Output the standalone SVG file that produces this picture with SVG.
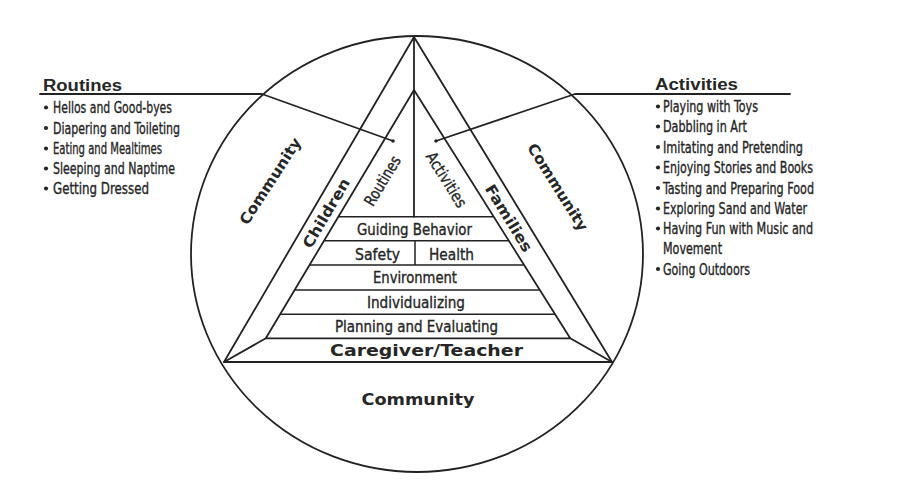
<svg xmlns="http://www.w3.org/2000/svg" width="900" height="499" viewBox="0 0 900 499">
<style>
.ln{fill:none;stroke:#222;stroke-width:1.8;stroke-linecap:round;stroke-linejoin:round}
.thin{fill:none;stroke:#222;stroke-width:1.5}
.t{font-family:"Liberation Sans Narrow","DejaVu Sans Condensed","Liberation Sans",sans-serif;font-size:16px;fill:#262626;stroke:#262626;stroke-width:0.35}
.b{font-family:"DejaVu Sans","Liberation Sans",sans-serif;font-weight:bold;font-size:15px;fill:#262626}
.h{font-family:"Liberation Sans","DejaVu Sans",sans-serif;font-weight:bold;font-size:16px;fill:#262626}
.dot{fill:#262626}
</style>
<rect width="900" height="499" fill="#fff"/>
<g id="connectors">
<ellipse class="ln" cx="417" cy="254" rx="226" ry="218" stroke-width="2.2"/>
<path class="ln" d="M414 37 L224 362 L612 362 Z"/>
<path class="ln" d="M414 90 L265.8 338.3 L570.2 338.3 Z"/>
<path class="ln" d="M265.8 338.3 L224 362 M570.2 338.3 L612 362"/>
<path class="ln" d="M414 37 L414 216.7"/>
<path class="thin" d="M338.4 216.7 H493.7 M324.1 240.7 H508.8 M309.6 265 H524.1 M294.6 290 H539.8 M280.1 314.3 H555.1 M415 240.7 V265"/>
<path class="ln" d="M40 94 H262 L393 141"/>
<path class="ln" d="M790 94 H575 L436 141"/>
<circle class="dot" cx="393" cy="141" r="1.8"/>
<circle class="dot" cx="436" cy="141" r="1.8"/>
</g>
<g id="routines">
<text class="h" x="43" y="90.5" textLength="79" lengthAdjust="spacingAndGlyphs">Routines</text>
<circle class="dot" cx="46" cy="107.5" r="2.1"/>
<circle class="dot" cx="46" cy="128" r="2.1"/>
<circle class="dot" cx="46" cy="148.5" r="2.1"/>
<circle class="dot" cx="46" cy="168.5" r="2.1"/>
<circle class="dot" cx="46" cy="188.5" r="2.1"/>
<text class="t" x="53" y="113" textLength="119" lengthAdjust="spacingAndGlyphs">Hellos and Good-byes</text>
<text class="t" x="53" y="133.5" textLength="127" lengthAdjust="spacingAndGlyphs">Diapering and Toileting</text>
<text class="t" x="53" y="154" textLength="109" lengthAdjust="spacingAndGlyphs">Eating and Mealtimes</text>
<text class="t" x="53" y="174" textLength="122" lengthAdjust="spacingAndGlyphs">Sleeping and Naptime</text>
<text class="t" x="53" y="194" textLength="96" lengthAdjust="spacingAndGlyphs">Getting Dressed</text>
</g>
<g id="activities">
<text class="h" x="655" y="90" textLength="83" lengthAdjust="spacingAndGlyphs">Activities</text>
<circle class="dot" cx="658" cy="106.5" r="2.1"/>
<circle class="dot" cx="658" cy="126.5" r="2.1"/>
<circle class="dot" cx="658" cy="147" r="2.1"/>
<circle class="dot" cx="658" cy="167.5" r="2.1"/>
<circle class="dot" cx="658" cy="188" r="2.1"/>
<circle class="dot" cx="658" cy="208.5" r="2.1"/>
<circle class="dot" cx="658" cy="228.5" r="2.1"/>
<circle class="dot" cx="658" cy="269" r="2.1"/>
<text class="t" x="663" y="112" textLength="95" lengthAdjust="spacingAndGlyphs">Playing with Toys</text>
<text class="t" x="663" y="132" textLength="84" lengthAdjust="spacingAndGlyphs">Dabbling in Art</text>
<text class="t" x="663" y="152.5" textLength="140" lengthAdjust="spacingAndGlyphs">Imitating and Pretending</text>
<text class="t" x="663" y="173" textLength="150" lengthAdjust="spacingAndGlyphs">Enjoying Stories and Books</text>
<text class="t" x="663" y="193.5" textLength="151" lengthAdjust="spacingAndGlyphs">Tasting and Preparing Food</text>
<text class="t" x="663" y="214" textLength="144" lengthAdjust="spacingAndGlyphs">Exploring Sand and Water</text>
<text class="t" x="663" y="234" textLength="150" lengthAdjust="spacingAndGlyphs">Having Fun with Music and</text>
<text class="t" x="663" y="254" textLength="59" lengthAdjust="spacingAndGlyphs">Movement</text>
<text class="t" x="663" y="274.5" textLength="87" lengthAdjust="spacingAndGlyphs">Going Outdoors</text>
</g>
<g id="community-labels">
<text class="b" transform="translate(270 181) rotate(-57)" x="0" y="5.5" text-anchor="middle" textLength="100" lengthAdjust="spacingAndGlyphs">Community</text>
<text class="b" transform="translate(558 187) rotate(58)" x="0" y="5.5" text-anchor="middle" textLength="100" lengthAdjust="spacingAndGlyphs">Community</text>
<text class="b" x="418" y="405" text-anchor="middle" textLength="113" lengthAdjust="spacingAndGlyphs">Community</text>
</g>
<g id="sides">
<text class="b" transform="translate(326 213) rotate(-59.5)" x="0" y="5.5" text-anchor="middle" textLength="78" lengthAdjust="spacingAndGlyphs">Children</text>
<text class="b" transform="translate(509 218) rotate(58.6)" x="0" y="5.5" text-anchor="middle" textLength="76" lengthAdjust="spacingAndGlyphs">Families</text>
<text class="t" transform="translate(383 181) rotate(-59)" x="0" y="5" text-anchor="middle" textLength="55" lengthAdjust="spacingAndGlyphs">Routines</text>
<text class="t" transform="translate(446 180) rotate(58)" x="0" y="5" text-anchor="middle" textLength="62" lengthAdjust="spacingAndGlyphs">Activities</text>
</g>
<g id="pyramid">
<text class="t" x="414.5" y="235" text-anchor="middle" textLength="115" lengthAdjust="spacingAndGlyphs">Guiding Behavior</text>
<text class="t" x="355" y="260" textLength="45" lengthAdjust="spacingAndGlyphs">Safety</text>
<text class="t" x="429" y="260" textLength="45" lengthAdjust="spacingAndGlyphs">Health</text>
<text class="t" x="415" y="283" text-anchor="middle" textLength="84" lengthAdjust="spacingAndGlyphs">Environment</text>
<text class="t" x="416" y="307.5" text-anchor="middle" textLength="98" lengthAdjust="spacingAndGlyphs">Individualizing</text>
<text class="t" x="416.5" y="332" text-anchor="middle" textLength="163" lengthAdjust="spacingAndGlyphs">Planning and Evaluating</text>
<text class="b" x="426.5" y="356" text-anchor="middle" font-size="16" textLength="193" lengthAdjust="spacingAndGlyphs">Caregiver/Teacher</text>
</g>
</svg>
